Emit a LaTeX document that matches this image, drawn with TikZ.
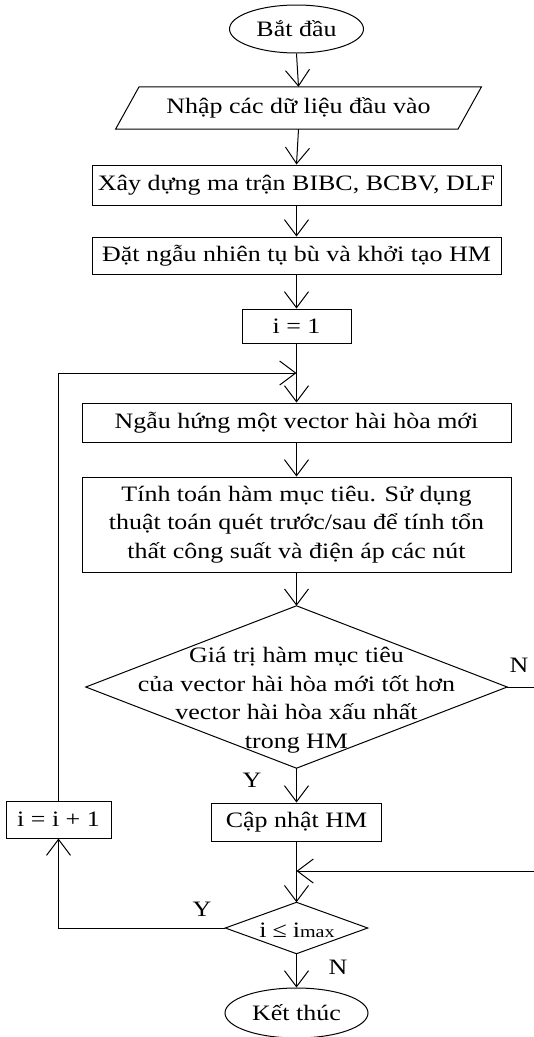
\documentclass[tikz,border=0pt]{standalone}
\usepackage{fontspec}
\setmainfont{Liberation Serif}[FakeStretch=1.18]
\usetikzlibrary{arrows.meta,shapes.geometric}
\begin{document}
\begin{tikzpicture}[x=1pt,y=-1pt,
  every node/.style={font=\fontsize{22}{28.5}\selectfont, inner sep=0pt},
  proc/.style={draw, rectangle, line width=1pt, align=center},
  term/.style={draw, ellipse, line width=1pt},
  plain/.style={draw=none, rectangle, align=center},
  conn/.style={line width=1pt},
  arr/.style={line width=1pt, -{Straight Barb[length=16pt,width=24pt]}}
]
\useasboundingbox (0,0) rectangle (534,1037);

% nodes
\node[term, minimum width=134pt, minimum height=48pt] (start) at (296.5,29) {Bắt đầu};
\node[plain, minimum width=342pt, minimum height=42pt] (input) at (298.5,108) {Nhập các dữ liệu đầu vào};
\draw[conn] ([xshift=-11.75pt]input.south west) -- ([xshift=11.75pt]input.north west)
  -- ([xshift=11.75pt]input.north east) -- ([xshift=-11.75pt]input.south east) -- cycle;
\node[proc, minimum width=409pt, minimum height=40pt] (build) at (296.5,185) {Xây dựng ma trận BIBC, BCBV, DLF};
\node[proc, minimum width=409pt, minimum height=37pt] (init) at (296.5,255.5) {Đặt ngẫu nhiên tụ bù và khởi tạo HM};
\node[proc, minimum width=109pt, minimum height=34pt] (ione) at (296.5,326) {i = 1};
\node[proc, minimum width=429pt, minimum height=39pt] (improv) at (296.5,422.5) {Ngẫu hứng một vector hài hòa mới};
\node[proc, minimum width=429pt, minimum height=95pt] (calc) at (296.5,524.5) {Tính toán hàm mục tiêu. Sử dụng\\thuật toán quét trước/sau để tính tổn\\thất công suất và điện áp các nút};

\node[plain, minimum width=421pt, minimum height=162pt] (dia) at (296.5,687) {};
\draw[conn] (dia.north) -- (dia.east) -- (dia.south) -- (dia.west) -- cycle;
\node[plain] (diatext) at (296.5,700) {Giá trị hàm mục tiêu\\của vector hài hòa mới tốt hơn\\vector hài hòa xấu nhất\\trong HM};

\node[proc, minimum width=170pt, minimum height=38pt] (update) at (296.5,822) {Cập nhật HM};
\node[proc, minimum width=105pt, minimum height=37pt] (inc) at (58.5,819.5) {i = i + 1};

\node[plain, minimum width=142pt, minimum height=51pt] (dia2) at (296.5,928) {};
\draw[conn] (dia2.north) -- (dia2.east) -- (dia2.south) -- (dia2.west) -- cycle;
\node[plain] (dia2text) at (297,930) {i\hspace{6pt}≤\hspace{6pt}i{\fontsize{17}{17}\selectfont max}};

\node[term, minimum width=143pt, minimum height=50pt] (stop) at (296.5,1013) {Kết thúc};

% labels
\node (y1) at (252,780) {Y};
\node (n1) at (519,665) {N};
\node (y2) at (202,909) {Y};
\node (n2) at (338,967) {N};

% coordinates
\coordinate (loopjoin) at (296.5,373);
\coordinate (merge) at (296.5,871);
\coordinate (rgt1) at (541,687);
\coordinate (rgt2) at (541,871);

% connectors
\draw[arr] (start.south) -- (input.north);
\draw[arr] (input.south) -- (build.north);
\draw[arr] (build.south) -- (init.north);
\draw[arr] (init.south) -- (ione.north);
\draw[arr] (ione.south) -- (improv.north);
\draw[arr] (improv.south) -- (calc.north);
\draw[arr] (calc.south) -- (dia.north);
\draw[arr] (dia.south) -- (update.north);
\draw[arr] (update.south) -- (dia2.north);
\draw[arr] (dia.east) -- (rgt1) -- (rgt2) -- (merge);
\draw[arr] (dia2.west) -| (inc.south);
\draw[arr] (inc.north) |- (loopjoin);
\draw[arr] (dia2.south) -- (stop.north);
\end{tikzpicture}
\end{document}
